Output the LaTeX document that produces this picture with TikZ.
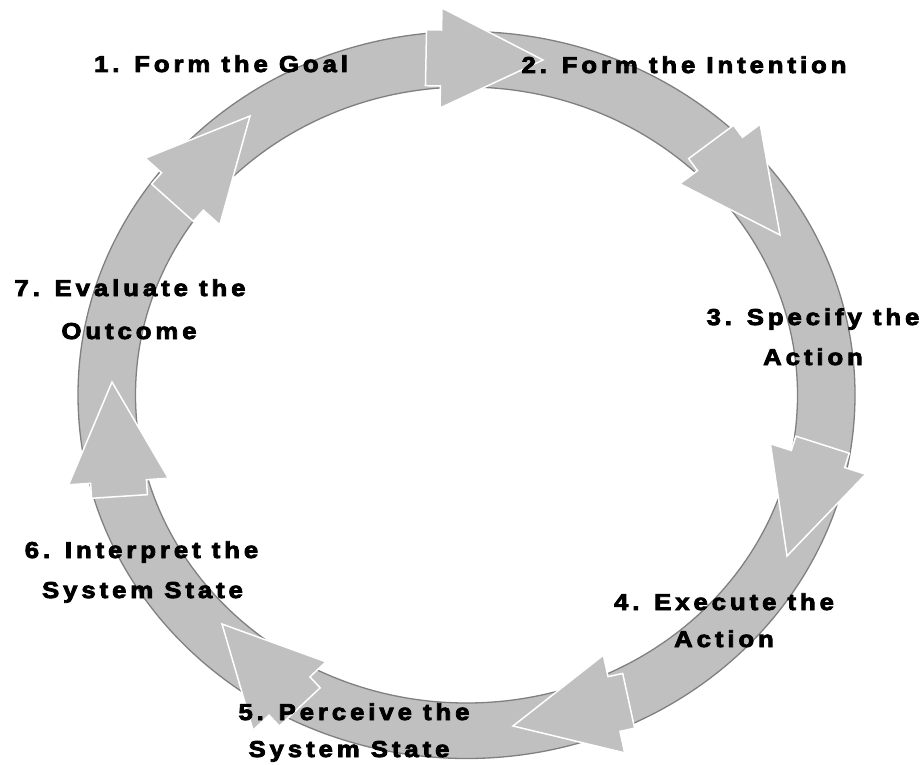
\documentclass[tikz,border=0pt]{standalone}
\usepackage{fontspec}
\usetikzlibrary{calc}
\newfontfamily\lblfont[LetterSpace=17,FakeBold=3.5,FakeStretch=1.12]{Liberation Sans Bold}
\definecolor{ringfill}{RGB}{192,192,192}
\definecolor{ringedge}{RGB}{128,128,128}
% one block arrow of the cycle: short shaft plus triangular head
% #1 = middle of the head's base, #2 = tip
\newcommand\cyclearrow[2]{%
  \coordinate (hb) at (#1);
  \coordinate (ht) at (#2);
  \coordinate (hk) at ($(hb)!-15pt!(ht)$);
  \filldraw[arrowbody]
    ($(hk)!28pt!90:(ht)$) -- ($(hb)!28pt!90:(ht)$) -- ($(hb)!50pt!90:(ht)$)
    -- (ht) -- ($(hb)!50pt!-90:(ht)$) -- ($(hb)!28pt!-90:(ht)$)
    -- ($(hk)!28pt!-90:(ht)$) -- cycle;}
\begin{document}
\begin{tikzpicture}[x=1pt,y=-1pt,
  ring/.style={fill=ringfill,draw=ringedge,line width=1.3pt,even odd rule},
  arrowbody/.style={fill=ringfill,draw=white,line width=1.5pt,line join=miter},
  lbl/.style={font=\lblfont\fontsize{23}{23}\selectfont,anchor=base,inner sep=0pt}]
\useasboundingbox[fill=white] (0,0) rectangle (923,765);

% the ring
\coordinate (c) at (466.5,395);
\path[ring] (c) ellipse [x radius=388.5pt, y radius=363.5pt]
            (c) ellipse [x radius=331pt, y radius=308pt];

% the seven arrows, clockwise from the top
\cyclearrow{441,58}{543,60}
\cyclearrow{720,154}{780,235}
\cyclearrow{818,459}{787,556}
\cyclearrow{614,704}{513,726}
\cyclearrow{289.5,696}{222,624}
\cyclearrow{118.5,481.5}{112,382}
\cyclearrow{182.5,191.5}{250,116}

% stage labels
\node[lbl] (s1)  at (221,72)  {1. Form the Goal};
\node[lbl] (s2)  at (684,73)  {2. Form the Intention};
\node[lbl] (s3a) at (813,325) {3. Specify the};
\node[lbl] (s3b) at (813,365) {Action};
\node[lbl] (s4a) at (724,610) {4. Execute the};
\node[lbl] (s4b) at (724,647) {Action};
\node[lbl] (s5a) at (354,720) {5. Perceive the};
\node[lbl] (s5b) at (349,757) {System State};
\node[lbl] (s6a) at (141.5,558) {6. Interpret the};
\node[lbl] (s6b) at (142.5,598) {System State};
\node[lbl] (s7a) at (130,296) {7. Evaluate the};
\node[lbl] (s7b) at (129,339) {Outcome};
\end{tikzpicture}
\end{document}
